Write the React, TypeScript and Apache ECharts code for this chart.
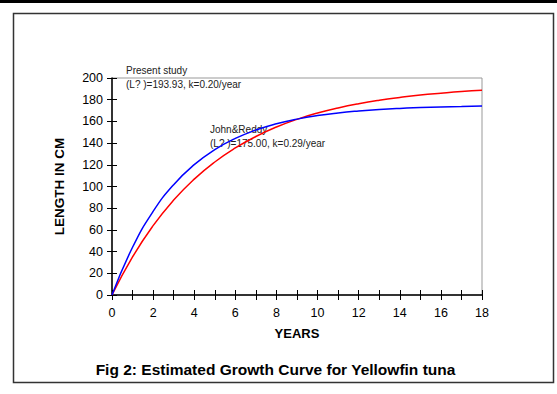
import React, { useEffect, useRef } from "react";
import * as echarts from "echarts";

const years = [0, 1, 2, 3, 4, 5, 6, 7, 8, 9, 10, 11, 12, 13, 14, 15, 16, 17, 18];
const presentStudy = [0, 35.1, 63.9, 87.5, 106.8, 122.6, 135.5, 146.1, 154.8, 161.9, 167.7, 172.4, 176.3, 179.5, 182.1, 184.3, 186.0, 187.5, 188.6];
const johnReddy = [0, 44.0, 77.0, 101.7, 120.1, 133.9, 144.3, 152.0, 157.8, 162.1, 165.4, 167.8, 169.6, 171.0, 172.0, 172.7, 173.3, 173.7, 174.1];
const seriesNames = ["Present study", "John&Reddy"];
const noteLines = [
  ["Present study", "(L? )=193.93, k=0.20/year"],
  ["John&Reddy", "(L? )=175.00, k=0.29/year"],
];
const titleText = "Fig 2: Estimated Growth Curve for Yellowfin tuna";
const xName = "YEARS";
const yName = "LENGTH IN CM";

const FONT = "'Liberation Sans', Arial, sans-serif";

export default function App() {
  const ref = useRef<HTMLDivElement>(null);
  useEffect(() => {
    if (!ref.current) return;
    const chart = echarts.init(ref.current, undefined, { renderer: "svg" });
    const toPairs = (arr: number[]) => years.map((y, i) => [y, arr[i]]);
    const tickBase = { show: true, length: 5, lineStyle: { color: "#000", width: 1 } };
    chart.setOption({
      animation: false,
      backgroundColor: "#fff",
      textStyle: { fontFamily: FONT },
      grid: {
        left: 112,
        top: 78,
        right: 75,
        bottom: 99,
        show: true,
        borderColor: "#999",
        borderWidth: 1,
        backgroundColor: "transparent",
      },
      xAxis: [
        {
          type: "value",
          min: 0,
          max: 18,
          interval: 1,
          position: "bottom",
          axisLine: { show: true, onZero: false, lineStyle: { color: "#000", width: 1.5 } },
          axisTick: { ...tickBase, inside: false },
          axisLabel: {
            color: "#000",
            fontSize: 12.5,
            fontFamily: FONT,
            margin: 11,
            formatter: (v: number) => (v % 2 === 0 ? String(v) : ""),
          },
          splitLine: { show: false },
          name: xName,
          nameLocation: "middle",
          nameGap: 32,
          nameTextStyle: { color: "#000", fontSize: 13, fontWeight: "bold", fontFamily: FONT },
        },
        {
          type: "value",
          min: 0,
          max: 18,
          interval: 1,
          position: "bottom",
          axisLine: { show: false },
          axisTick: { ...tickBase, inside: true },
          axisLabel: { show: false },
          splitLine: { show: false },
        },
      ],
      yAxis: [
        {
          type: "value",
          min: 0,
          max: 200,
          interval: 20,
          position: "left",
          axisLine: { show: true, onZero: false, lineStyle: { color: "#000", width: 1.5 } },
          axisTick: { ...tickBase, inside: false },
          axisLabel: { color: "#000", fontSize: 12.5, fontFamily: FONT, margin: 9 },
          splitLine: { show: false },
          name: yName,
          nameLocation: "middle",
          nameGap: 46,
          nameRotate: 90,
          nameTextStyle: { color: "#000", fontSize: 13.5, fontWeight: "bold", fontFamily: FONT },
        },
        {
          type: "value",
          min: 0,
          max: 200,
          interval: 20,
          position: "left",
          axisLine: { show: false },
          axisTick: { ...tickBase, inside: true },
          axisLabel: { show: false },
          splitLine: { show: false },
        },
      ],
      series: [
        {
          name: seriesNames[0],
          type: "line",
          data: toPairs(presentStudy),
          smooth: true,
          showSymbol: false,
          lineStyle: { color: "#ff0000", width: 1.5 },
          z: 3,
        },
        {
          name: seriesNames[1],
          type: "line",
          data: toPairs(johnReddy),
          smooth: true,
          showSymbol: false,
          lineStyle: { color: "#0000ff", width: 1.5 },
          z: 4,
        },
      ],
      graphic: [
        { type: "rect", left: 0, top: 0, shape: { width: 557, height: 3 }, style: { fill: "#000" } },
        {
          type: "rect",
          shape: { x: 13.5, y: 13.5, width: 540, height: 369 },
          style: { fill: "none", stroke: "#333", lineWidth: 1.5 },
        },
        {
          type: "text",
          x: 126,
          y: 65,
          style: { text: noteLines[0][0], fill: "#222", font: `10px ${FONT}` },
        },
        {
          type: "text",
          x: 126,
          y: 79,
          style: { text: noteLines[0][1], fill: "#222", font: `10px ${FONT}` },
        },
        {
          type: "text",
          x: 210,
          y: 124,
          style: { text: noteLines[1][0], fill: "#222", font: `10px ${FONT}` },
        },
        {
          type: "text",
          x: 210,
          y: 138,
          style: { text: noteLines[1][1], fill: "#222", font: `10px ${FONT}` },
        },
        {
          type: "text",
          x: 275.5,
          y: 369,
          style: {
            text: titleText,
            fill: "#000",
            font: `bold 15.5px ${FONT}`,
            textAlign: "center",
            textVerticalAlign: "middle",
          },
        },
      ],
    });
    return () => chart.dispose();
  }, []);
  return (
    <div
      ref={ref}
      style={{ position: "fixed", left: 0, top: 0, width: 557, height: 394, background: "#fff" }}
    />
  );
}
